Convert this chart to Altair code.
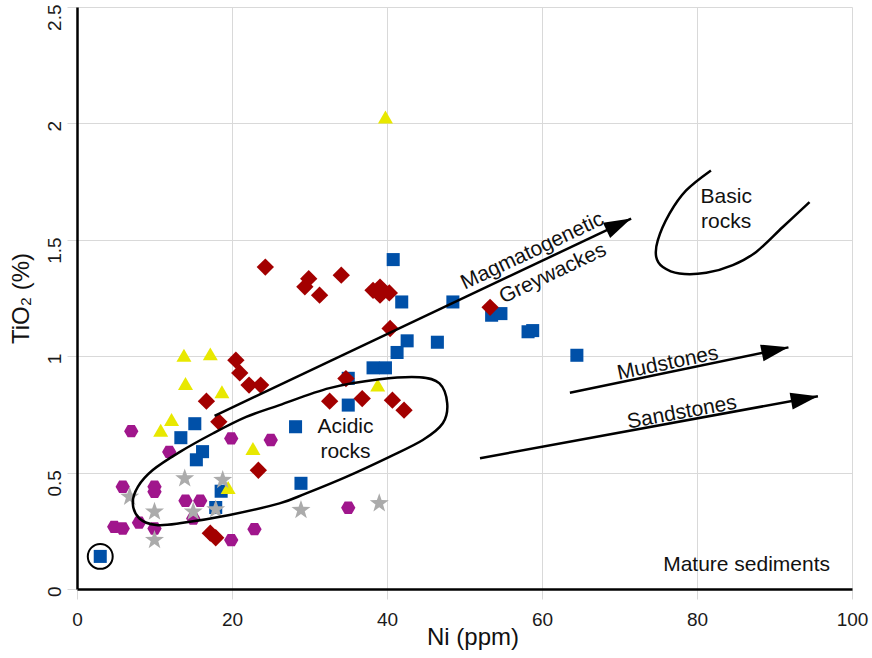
import math
import altair as alt
import pandas as pd

# ---------------- data ----------------
# Blue squares
sq_ni = [3.0, 13.4, 15.2, 16.2, 15.4, 18.6, 17.9, 40.8, 41.9, 48.5, 42.6, 46.5,
         41.3, 38.2, 39.8, 35.0, 35.0, 28.2, 28.9, 53.5, 54.7, 58.2, 58.8, 64.5]
sq_ti = [0.14, 0.65, 0.71, 0.59, 0.555, 0.42, 0.35, 1.415, 1.233, 1.233, 1.066, 1.06,
         1.016, 0.95, 0.95, 0.905, 0.79, 0.697, 0.454, 1.176, 1.183, 1.105, 1.11, 1.004]
# Dark red diamonds
dm_ni = [24.3, 29.9, 29.4, 31.3, 34.1, 38.2, 39.1, 39.1, 40.3, 40.4, 20.5, 21.0, 22.2,
         23.7, 16.7, 18.3, 23.4, 34.7, 32.6, 36.8, 40.7, 42.2, 17.2, 17.9, 53.3]
dm_ti = [1.383, 1.333, 1.298, 1.262, 1.348, 1.283, 1.297, 1.262, 1.272, 1.119, 0.983, 0.928,
         0.876, 0.876, 0.807, 0.718, 0.51, 0.904, 0.807, 0.818, 0.811, 0.768, 0.24, 0.22, 1.21]
# Yellow triangles
tr_ni = [13.8, 17.2, 14.0, 18.7, 12.2, 10.8, 22.7, 19.5, 38.8, 39.8]
tr_ti = [1.004, 1.01, 0.883, 0.847, 0.728, 0.682, 0.604, 0.436, 0.876, 2.027]
# Magenta hexagons
hx_ni = [7.0, 19.9, 25.0, 11.9, 5.9, 10.0, 10.0, 14.0, 15.9, 4.8, 5.9, 8.0, 10.0,
         15.0, 19.9, 22.9, 35.0]
hx_ti = [0.678, 0.647, 0.64, 0.589, 0.439, 0.439, 0.418, 0.379, 0.379, 0.267, 0.26, 0.285,
         0.26, 0.303, 0.21, 0.257, 0.349]
# Grey stars
st_ni = [13.9, 18.8, 6.8, 10.0, 15.0, 17.9, 10.0, 28.9, 39.0]
st_ti = [0.475, 0.468, 0.396, 0.332, 0.332, 0.342, 0.21, 0.339, 0.368]

# Encircled sample
circ_ni = [3.0]
circ_ti = [0.14]

# Trend arrows (start, tip)
magma_ni = [17.75, 71.5]
magma_ti = [0.744, 1.591]
mud_ni = [63.6, 91.8]
mud_ti = [0.843, 1.038]
sand_ni = [52.0, 95.6]
sand_ti = [0.562, 0.828]

# Acidic rocks field (closed outline)
acid_ni = [7.2, 7.85, 9.78, 13.23, 17.52, 21.83, 26.13, 32.58, 39.03, 44.19, 46.77, 47.77,
           47.2, 44.62, 40.32, 34.74, 29.57, 26.13, 19.68, 13.23, 10.22, 8.06]
acid_ti = [0.368, 0.439, 0.511, 0.588, 0.668, 0.739, 0.79, 0.863, 0.901, 0.91, 0.883, 0.797,
           0.712, 0.64, 0.568, 0.482, 0.411, 0.368, 0.318, 0.282, 0.275, 0.303]
# Basic rocks field (open outline)
basic_ni = [81.8, 78.6, 76.45, 74.94, 74.74, 75.59, 77.74, 81.19, 84.62, 87.64, 91.07, 94.52]
basic_ti = [1.798, 1.712, 1.612, 1.498, 1.426, 1.383, 1.355, 1.358, 1.391, 1.448, 1.555, 1.662]

x_ticks = [0, 20, 40, 60, 80, 100]
y_ticks = [0, 0.5, 1, 1.5, 2, 2.5]

# ---------------- layout ----------------
W, H = 775, 582
XMAX, YMAX = 100, 2.5
SX, SY = W / XMAX, H / YMAX
FONT = "Liberation Sans"
GRID = "#D9D9D9"


def screen_angle(x0, y0, x1, y1):
    a = math.degrees(math.atan2(-(y1 - y0) * SY, (x1 - x0) * SX))
    return a % 360


a_magma = screen_angle(magma_ni[0], magma_ti[0], magma_ni[1], magma_ti[1])
a_mud = screen_angle(mud_ni[0], mud_ti[0], mud_ni[1], mud_ti[1])
a_sand = screen_angle(sand_ni[0], sand_ti[0], sand_ni[1], sand_ti[1])

xs = alt.Scale(domain=[0, XMAX], nice=False)
ys = alt.Scale(domain=[0, YMAX], nice=False)

x_axis = alt.Axis(values=x_ticks, title="Ni (ppm)", grid=True, gridColor=GRID, gridWidth=1,
                  domainColor="black", domainWidth=2.5, tickColor=GRID, tickSize=10, tickWidth=1,
                  labelFont=FONT, labelFontSize=19, labelColor="#1a1a1a", labelPadding=11,
                  labelFlush=False,
                  titleFont=FONT, titleFontSize=24, titleFontWeight="normal", titleColor="#111111",
                  titleAlign="center", titleBaseline="alphabetic", titleX=W / 2 + 8, titleY=55)
y_axis = alt.Axis(values=y_ticks, format="~g", title="TiO₂ (%)", grid=True, gridColor=GRID,
                  gridWidth=1, domainColor="black", domainWidth=2.5, tickColor=GRID, tickSize=10,
                  tickWidth=1, labelFont=FONT, labelFontSize=19, labelColor="#1a1a1a",
                  labelAngle=270, labelAlign="right", labelBaseline="alphabetic", labelPadding=7,
                  labelOffset=-3, labelFlush=False,
                  titleFont=FONT, titleFontSize=24, titleFontWeight="normal", titleColor="#111111",
                  titleAngle=270, titleAlign="center", titleBaseline="middle", titleX=-56, titleY=H / 2)


def X():
    return alt.X("ni:Q", scale=xs, axis=x_axis)


def Y():
    return alt.Y("ti:Q", scale=ys, axis=y_axis)


def pts(ni, ti):
    return pd.DataFrame({"ni": ni, "ti": ti})


HEX = "M-1,0L-0.5,-0.866L0.5,-0.866L1,0L0.5,0.866L-0.5,0.866Z"
STAR = ("M0,-1L0.235,-0.324L0.951,-0.309L0.38,0.124L0.588,0.809L0,0.4L-0.588,0.809"
        "L-0.38,0.124L-0.951,-0.309L-0.235,-0.324Z")
HEAD = "M0,0L-2,-0.62L-2,0.62Z"

hexes = alt.Chart(pts(hx_ni, hx_ti)).mark_point(
    shape=HEX, filled=True, color="#A0168C", size=205, opacity=1).encode(x=X(), y=Y())
squares = alt.Chart(pts(sq_ni, sq_ti)).mark_point(
    shape="square", filled=True, color="#0050A8", size=170, opacity=1).encode(x=X(), y=Y())
diamonds = alt.Chart(pts(dm_ni, dm_ti)).mark_point(
    shape="diamond", filled=True, color="#A30000", size=300, opacity=1).encode(x=X(), y=Y())
tris = alt.Chart(pts(tr_ni, tr_ti)).mark_point(
    shape="triangle-up", filled=True, color="#E8E800", size=225, opacity=1).encode(x=X(), y=Y())
stars = alt.Chart(pts(st_ni, st_ti)).mark_point(
    shape=STAR, filled=True, color="#ABABAB", size=400, opacity=1).encode(x=X(), y=Y())
circle = alt.Chart(pts(circ_ni, circ_ti)).mark_point(
    shape="circle", filled=False, color="black", size=620, strokeWidth=2, opacity=1
).encode(x=X(), y=Y())

arrow_df = pd.DataFrame({
    "ni": magma_ni + mud_ni + sand_ni,
    "ti": magma_ti + mud_ti + sand_ti,
    "grp": ["magma"] * 2 + ["mud"] * 2 + ["sand"] * 2,
    "ord": [0, 1] * 3,
})
arrow_lines = alt.Chart(arrow_df).mark_line(color="black", strokeWidth=2.5).encode(
    x=X(), y=Y(), detail="grp:N", order="ord:Q")

head_df = pd.DataFrame({
    "ni": [magma_ni[1], mud_ni[1], sand_ni[1]],
    "ti": [magma_ti[1], mud_ti[1], sand_ti[1]],
    "ang": [a_magma, a_mud, a_sand],
})
heads = alt.Chart(head_df).mark_point(
    shape=HEAD, filled=True, color="black", size=740, opacity=1, strokeWidth=0
).encode(x=X(), y=Y(), angle=alt.Angle("ang:Q", scale=None))

acid_df = pd.DataFrame({"ni": acid_ni, "ti": acid_ti, "ord": list(range(len(acid_ni)))})
acid = alt.Chart(acid_df).mark_line(color="black", strokeWidth=2.5, interpolate="cardinal-closed").encode(
    x=X(), y=Y(), order="ord:Q")
basic_df = pd.DataFrame({"ni": basic_ni, "ti": basic_ti, "ord": list(range(len(basic_ni)))})
basic = alt.Chart(basic_df).mark_line(color="black", strokeWidth=2.5, interpolate="cardinal").encode(
    x=X(), y=Y(), order="ord:Q")

label_df = pd.DataFrame({
    "label": ["Magmatogenetic", "Greywackes", "Acidic", "rocks", "Basic", "rocks",
              "Mudstones", "Sandstones", "Mature sediments"],
    "ni": [58.77, 61.4, 34.65, 34.65, 83.77, 83.77, 76.23, 78.06, 86.4],
    "ti": [1.451, 1.355, 0.695, 0.588, 1.684, 1.576, 0.969, 0.758, 0.103],
    "ang": [a_magma, a_magma, 0, 0, 0, 0, a_mud, a_sand, 0],
})
labels = alt.Chart(label_df).mark_text(
    font=FONT, fontSize=21, color="#111111", baseline="middle", align="center"
).encode(x=X(), y=Y(), text="label:N", angle=alt.Angle("ang:Q", scale=None))

chart = alt.layer(
    hexes, squares, diamonds, tris, stars, circle, arrow_lines, heads, acid, basic, labels
).properties(
    width=W, height=H,
    padding={"left": 77, "top": 7, "right": 20, "bottom": 69},
    autosize=alt.AutoSizeParams(type="none"),
    background="white",
).configure_view(strokeWidth=0)

chart.save("out.html", embed_options={"renderer": "svg", "actions": False})
